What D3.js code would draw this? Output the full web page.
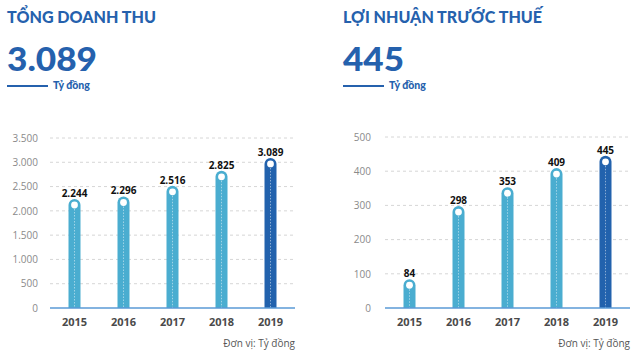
<!DOCTYPE html>
<html><head><meta charset="utf-8">
<script src="https://cdn.jsdelivr.net/npm/d3@7"></script>
<style>
body{margin:0;background:#fff;}
svg{display:block;font-family:"Open Sans",sans-serif;}
</style></head>
<body>
<svg id="c" width="640" height="355"></svg>
<script>
const years = ["2015","2016","2017","2018","2019"];
const revenue = [2244, 2296, 2516, 2825, 3089];
const revenueLabels = ["2.244","2.296","2.516","2.825","3.089"];
const revenueTicks = [0,500,1000,1500,2000,2500,3000,3500];
const revenueTickLabels = ["0","500","1.000","1.500","2.000","2.500","3.000","3.500"];
const profit = [84, 298, 353, 409, 445];
const profitLabels = ["84","298","353","409","445"];
const profitTicks = [0,100,200,300,400,500];
const profitTickLabels = ["0","100","200","300","400","500"];

const svg = d3.select("#c");
const titleColor = "#2561ad";
const light = "#4aadd0", dark = "#2262ad";

function panel(opt){
  const g = svg.append("g");
  // header
  g.append("text").attr("x",opt.x0).attr("y",23).text(opt.title)
    .attr("fill",titleColor).attr("font-size",17).attr("font-weight",900)
    .attr("font-family","Lato, sans-serif")
    .attr("textLength",opt.titleW).attr("lengthAdjust","spacingAndGlyphs");
  g.append("text").attr("x",opt.x0).attr("y",71).text(opt.big)
    .attr("fill",titleColor).attr("font-size",32).attr("font-weight",900)
    .attr("font-family","Lato, sans-serif")
    .attr("textLength",opt.bigW).attr("lengthAdjust","spacingAndGlyphs");
  g.append("line").attr("x1",opt.x0).attr("x2",opt.x0+41).attr("y1",86).attr("y2",86)
    .attr("stroke",titleColor).attr("stroke-width",2);
  g.append("text").attr("x",opt.x0+46).attr("y",89).text("Tỷ đồng")
    .attr("fill",titleColor).attr("font-size",10.5).attr("font-weight",900)
    .attr("font-family","Lato, sans-serif");

  const y = d3.scaleLinear().domain([0,opt.max]).range([308,opt.topY]);
  const x = d3.scaleBand().domain(years).range([opt.gx0,opt.gx1]).padding(0);
  // grid
  g.selectAll(".grid").data(opt.ticks.slice(1)).join("line")
    .attr("x1",opt.gx0).attr("x2",opt.gx1)
    .attr("y1",d=>y(d)).attr("y2",d=>y(d))
    .attr("stroke","#d6d6d6").attr("stroke-width",1).attr("stroke-dasharray","3,3");
  // y labels via axis
  const ax = d3.axisLeft(y).tickValues(opt.ticks).tickFormat((d,i)=>opt.tickLabels[i]).tickSize(0).tickPadding(0);
  const ag = g.append("g").attr("transform",`translate(${opt.labelX},0)`).call(ax);
  ag.select(".domain").remove();
  ag.selectAll("text").attr("fill","#8a8a8a").attr("font-size",10).attr("font-family","Open Sans, sans-serif");
  // bars
  const bw = 12;
  opt.values.forEach((v,i)=>{
    const cx = x(years[i]) + x.bandwidth()/2;
    const col = i===opt.values.length-1 ? dark : light;
    const top = y(v), bot = 308;
    const r = bw/2;
    g.append("path").attr("d",
      `M${cx-r},${bot} L${cx-r},${top+r} A${r},${r} 0 0 1 ${cx+r},${top+r} L${cx+r},${bot} Z`)
      .attr("fill",col);
    g.append("line").attr("x1",cx).attr("x2",cx).attr("y1",top+10).attr("y2",bot)
      .attr("stroke","#ffffff").attr("stroke-opacity",0.6).attr("stroke-width",0.8).attr("stroke-dasharray","1.5,1.5");
    g.append("circle").attr("cx",cx).attr("cy",top+6).attr("r",3.4).attr("fill","#fff");
    g.append("text").attr("x",cx).attr("y",top-2).attr("text-anchor","middle")
      .text(opt.labels[i]).attr("font-size",10).attr("font-weight",700).attr("fill","#111");
  });
  // baseline
  g.append("line").attr("x1",opt.gx0).attr("x2",opt.gx1).attr("y1",308).attr("y2",308)
    .attr("stroke","#5a9ad6").attr("stroke-width",1.5);
  // x labels
  const xa = d3.axisBottom(x).tickSize(0).tickPadding(0);
  const xg = g.append("g").attr("transform","translate(0,318)").call(xa);
  xg.select(".domain").remove();
  xg.selectAll("text").attr("fill","#4a4a4a").attr("font-size",11).attr("font-weight",700)
    .attr("font-family","Open Sans, sans-serif");
  g.append("text").attr("x",opt.gx1).attr("y",347).attr("text-anchor","end")
    .text("Đơn vị: Tỷ đồng").attr("fill","#555").attr("font-size",10);
}

panel({x0:7,title:"TỔNG DOANH THU",titleW:149,big:"3.089",bigW:90,
  values:revenue,labels:revenueLabels,ticks:revenueTicks,tickLabels:revenueTickLabels,
  max:3500,topY:138,gx0:50,gx1:295,labelX:38});
panel({x0:343,title:"LỢI NHUẬN TRƯỚC THUẾ",titleW:199,big:"445",bigW:61,
  values:profit,labels:profitLabels,ticks:profitTicks,tickLabels:profitTickLabels,
  max:500,topY:137,gx0:385,gx1:630,labelX:371});
</script>
</body></html>
